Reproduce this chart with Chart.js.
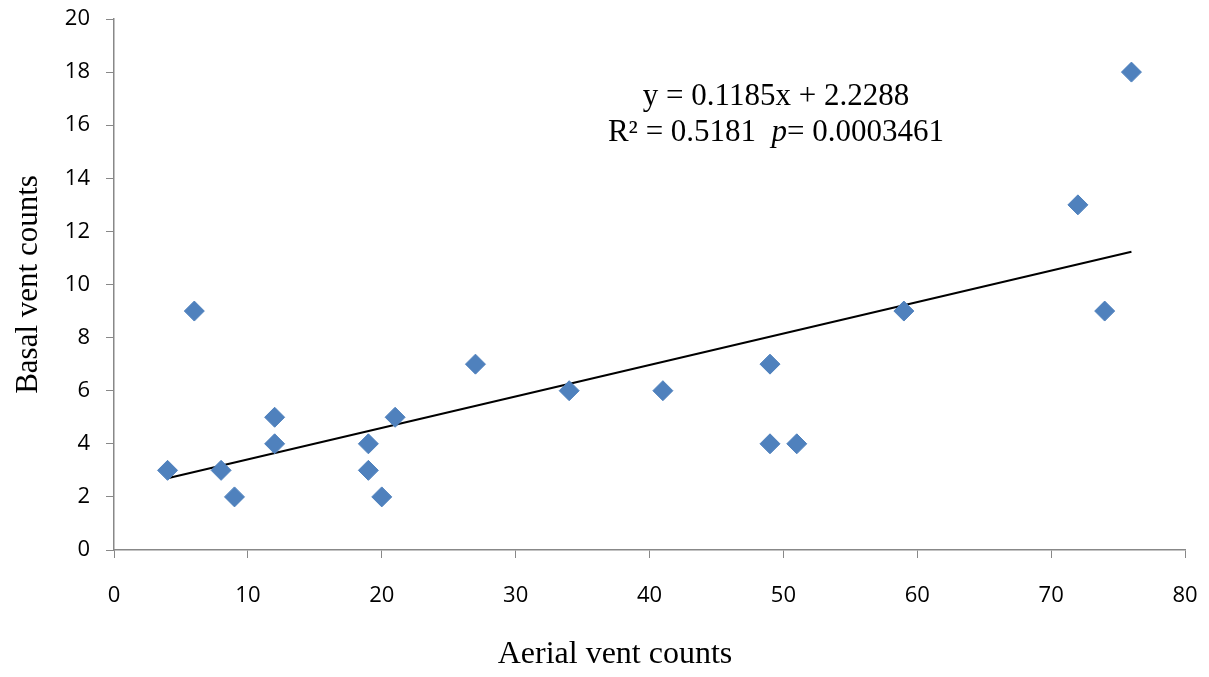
<!DOCTYPE html>
<html>
<head>
<meta charset="utf-8">
<script src="https://cdn.jsdelivr.net/npm/chart.js@4.4.0/dist/chart.umd.min.js"></script>
<style>
  html, body { margin: 0; padding: 0; background: #fff; }
  canvas { display: block; }
</style>
</head>
<body>
<canvas id="ventChart" width="1209" height="677"></canvas>
<script>
// aerial vs basal vent counts per site
const aerialCounts = [4, 6, 8, 9, 12, 12, 19, 19, 20, 21, 27, 34, 41, 49, 49, 51, 59, 72, 74, 76];
const basalCounts  = [3, 9, 3, 2, 5, 4, 4, 3, 2, 5, 7, 6, 6, 7, 4, 4, 9, 13, 9, 18];

// linear fit reported on the chart
const slope = 0.1185;
const intercept = 2.2288;
const fitRange = [4, 76];
const equationText = 'y = 0.1185x + 2.2288';
const r2Text = 'R\u00B2 = 0.5181  ';
const pText = 'p';
const pValueText = '= 0.0003461';
const xTitle = 'Aerial vent counts';
const yTitle = 'Basal vent counts';

const xTicks = [0, 10, 20, 30, 40, 50, 60, 70, 80];
const yTicks = [0, 2, 4, 6, 8, 10, 12, 14, 16, 18, 20];

const points = aerialCounts.map((x, i) => ({ x: x, y: basalCounts[i] }));
const fitLine = fitRange.map(x => ({ x: x, y: slope * x + intercept }));

const serif = '"Liberation Serif", "Times New Roman", serif';

// regression equation and the x title (the x title sits a bit left of centre)
const textLayer = {
  id: 'textLayer',
  afterDraw(chart) {
    const c = chart.ctx;
    const cx = 776;
    c.save();
    c.fillStyle = '#000';
    c.textBaseline = 'middle';
    c.font = '31px ' + serif;
    c.textAlign = 'center';
    c.fillText(equationText, cx, 97);

    const upright = '31px ' + serif;
    const italic = 'italic 31px ' + serif;
    c.font = upright;
    const w1 = c.measureText(r2Text).width;
    const w3 = c.measureText(pValueText).width;
    c.font = italic;
    const w2 = c.measureText(pText).width;
    let x = cx - (w1 + w2 + w3) / 2;
    c.textAlign = 'left';
    c.font = upright;
    c.fillText(r2Text, x, 133);
    x += w1;
    c.font = italic;
    c.fillText(pText, x, 133);
    x += w2;
    c.font = upright;
    c.fillText(pValueText, x, 133);

    c.textAlign = 'center';
    c.font = '32px ' + serif;
    c.fillText(xTitle, 615, 655);
    c.restore();
  }
};

const tickFont = { family: '"Open Sans", "Liberation Sans", sans-serif', size: 22 };
const titleFont = { family: serif, size: 31 };

new Chart(document.getElementById('ventChart').getContext('2d'), {
  type: 'scatter',
  data: {
    datasets: [
      {
        label: 'Vents',
        data: points,
        pointStyle: 'rectRot',
        pointRadius: 10,
        pointHoverRadius: 10,
        backgroundColor: '#4F81BD',
        borderColor: '#4F81BD',
        borderWidth: 1
      },
      {
        label: 'Linear fit',
        type: 'line',
        data: fitLine,
        borderColor: '#000',
        borderWidth: 2,
        pointRadius: 0,
        fill: false
      }
    ]
  },
  options: {
    responsive: false,
    animation: false,
    layout: { padding: { top: 19, right: 24, left: 0, bottom: 0 } },
    plugins: {
      legend: { display: false },
      tooltip: { enabled: false }
    },
    scales: {
      x: {
        type: 'linear',
        min: 0,
        max: 80,
        afterBuildTicks: axis => { axis.ticks = xTicks.map(v => ({ value: v })); },
        afterFit: axis => {
          axis.height = 127;
          axis.paddingLeft = 0;
          axis.paddingRight = 0;
        },
        grid: { drawOnChartArea: false, drawTicks: true, tickLength: 8, color: '#888' },
        border: { color: '#888', width: 1.5 },
        ticks: { color: '#000', font: tickFont, padding: 25, maxRotation: 0 },
        title: { display: false }
      },
      y: {
        type: 'linear',
        min: 0,
        max: 20,
        afterBuildTicks: axis => { axis.ticks = yTicks.map(v => ({ value: v })); },
        afterFit: axis => {
          axis.width = 114;
          axis.paddingTop = 0;
          axis.paddingBottom = 0;
        },
        grid: { drawOnChartArea: false, drawTicks: true, tickLength: 8, color: '#888' },
        border: { color: '#888', width: 1.5 },
        ticks: { color: '#000', font: tickFont, padding: 16 },
        title: { display: true, text: yTitle, color: '#000', font: titleFont, padding: { top: 10, bottom: 4 } }
      }
    }
  },
  plugins: [textLayer]
});
</script>
</body>
</html>
